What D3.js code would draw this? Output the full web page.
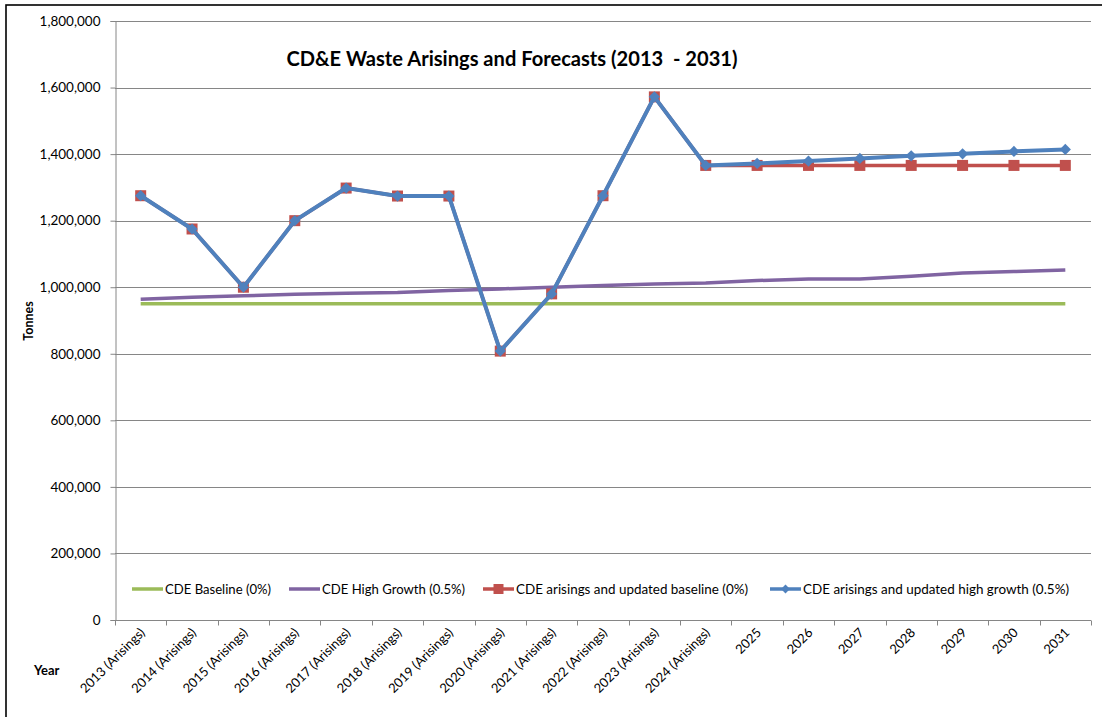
<!DOCTYPE html>
<html>
<head>
<meta charset="utf-8">
<script src="https://cdn.jsdelivr.net/npm/d3@7"></script>
<style>
  body { margin: 0; background: #fff; }
  svg { display: block; font-family: Lato, "Open Sans", sans-serif; }
</style>
</head>
<body>
<div id="chart"></div>
<script>
// ---- data ----
const categories = [
  "2013 (Arisings)", "2014 (Arisings)", "2015 (Arisings)", "2016 (Arisings)",
  "2017 (Arisings)", "2018 (Arisings)", "2019 (Arisings)", "2020 (Arisings)",
  "2021 (Arisings)", "2022 (Arisings)", "2023 (Arisings)", "2024 (Arisings)",
  "2025", "2026", "2027", "2028", "2029", "2030", "2031"
];

const baseline = [950000, 950000, 950000, 950000, 950000, 950000, 950000, 950000, 950000, 950000,
  950000, 950000, 950000, 950000, 950000, 950000, 950000, 950000, 950000];

const highGrowth = [964000, 970000, 974000, 979000, 982000, 984000, 990000, 995000, 1000000, 1005000,
  1010000, 1013000, 1020000, 1025000, 1025000, 1033000, 1043000, 1047000, 1052000];

const updatedBaseline = [1275000, 1175000, 1000000, 1200000, 1298000, 1274000, 1274000, 808000, 980000, 1275000,
  1572000, 1366000, 1366000, 1366000, 1366000, 1366000, 1366000, 1366000, 1366000];

const updatedHighGrowth = [1275000, 1175000, 1000000, 1200000, 1298000, 1274000, 1274000, 808000, 980000, 1275000,
  1572000, 1366000, 1372000, 1379000, 1387000, 1395000, 1401000, 1408000, 1414000];

const yTicks = [0, 200000, 400000, 600000, 800000, 1000000, 1200000, 1400000, 1600000, 1800000];

const seriesNames = [
  "CDE Baseline (0%)",
  "CDE High Growth (0.5%)",
  "CDE arisings and updated baseline (0%)",
  "CDE arisings and updated high growth (0.5%)"
];

// ---- layout ----
const width = 1102, height = 717;
const margin = { left: 115, top: 21, right: 11, bottom: 97 };

const svg = d3.select("#chart").append("svg")
  .attr("width", width).attr("height", height);

// outer chart border (only top/left fall inside the picture)
svg.append("rect")
  .attr("x", 6).attr("y", 5)
  .attr("width", width + 20).attr("height", height + 20)
  .attr("fill", "none").attr("stroke", "#000").attr("stroke-width", 1.6);

const x = d3.scaleBand().domain(categories)
  .range([margin.left, width - margin.right]).padding(0);
const y = d3.scaleLinear().domain([0, 1800000])
  .range([height - margin.bottom, margin.top]);

const cx = d => x(d) + x.bandwidth() / 2;

// gridlines
svg.append("g").selectAll("line")
  .data(yTicks.filter(v => v > 0))
  .enter().append("line")
  .attr("x1", margin.left).attr("x2", width - margin.right)
  .attr("y1", d => Math.round(y(d)) + 0.5).attr("y2", d => Math.round(y(d)) + 0.5)
  .attr("stroke", "#868686").attr("stroke-width", 1);

// y axis
const yAxis = svg.append("g")
  .attr("transform", `translate(${margin.left + 0.5},0)`)
  .call(d3.axisLeft(y).tickValues(yTicks).tickFormat(d3.format(",")).tickSize(5).tickPadding(10));
yAxis.select(".domain").attr("stroke", "#868686");
yAxis.selectAll(".tick line").attr("stroke", "#868686");
yAxis.selectAll(".tick text")
  .attr("font-size", 13.5).attr("fill", "#000")
  .attr("font-family", "Lato, sans-serif");

// x axis
const xAxisG = svg.append("g").attr("transform", `translate(0,${Math.round(y(0)) + 0.5})`);
xAxisG.append("line")
  .attr("x1", margin.left).attr("x2", width - margin.right)
  .attr("stroke", "#868686");
xAxisG.selectAll("line.tk")
  .data(categories.concat(["__end"]))
  .enter().append("line").attr("class", "tk")
  .attr("x1", (d, i) => Math.round(i < categories.length ? x(d) : x.range()[1]) + 0.5)
  .attr("x2", (d, i) => Math.round(i < categories.length ? x(d) : x.range()[1]) + 0.5)
  .attr("y1", 0).attr("y2", 5)
  .attr("stroke", "#868686");
xAxisG.selectAll("text")
  .data(categories)
  .enter().append("text")
  .attr("transform", d => `translate(${cx(d) + 5},${13}) rotate(-45)`)
  .attr("text-anchor", "end")
  .attr("font-size", 13)
  .attr("fill", "#000")
  .text(d => d);

// axis titles
svg.append("text")
  .attr("transform", "translate(33,321) rotate(-90)")
  .attr("text-anchor", "middle")
  .attr("font-size", 12.5).attr("font-weight", "bold")
  .text("Tonnes");
svg.append("text")
  .attr("x", 34).attr("y", 675)
  .attr("font-size", 13).attr("font-weight", "bold")
  .text("Year");

// title
svg.append("text")
  .attr("x", 512).attr("y", 66)
  .attr("text-anchor", "middle")
  .attr("font-size", 21).attr("font-weight", "bold")
  .style("white-space", "pre")
  .attr("textLength", 451).attr("lengthAdjust", "spacingAndGlyphs")
  .text("CD&E Waste Arisings and Forecasts (2013  - 2031)");

// series
const line = d3.line().x((d, i) => cx(categories[i])).y(d => y(d));

const series = [
  { values: baseline, color: "#9BBB59", width: 3.5, marker: null },
  { values: highGrowth, color: "#8064A2", width: 3.5, marker: null },
  { values: updatedBaseline, color: "#C0504D", width: 3.5, marker: "square" },
  { values: updatedHighGrowth, color: "#4F81BD", width: 4, marker: "diamond" }
];

series.forEach(s => {
  svg.append("path")
    .datum(s.values)
    .attr("d", line)
    .attr("fill", "none")
    .attr("stroke", s.color)
    .attr("stroke-width", s.width)
    .attr("stroke-linejoin", "round");
  if (s.marker) {
    const sym = d3.symbol()
      .type(s.marker === "square" ? d3.symbolSquare : d3.symbolDiamond2)
      .size(s.marker === "square" ? 121 : 80);
    svg.append("g").selectAll("path")
      .data(s.values)
      .enter().append("path")
      .attr("d", sym)
      .attr("transform", (d, i) => `translate(${cx(categories[i])},${y(d)})`)
      .attr("fill", s.color);
  }
});

// legend
const legendY = 589;
const legendItems = [
  { name: seriesNames[0], color: "#9BBB59", marker: null, x0: 132, tl: 106 },
  { name: seriesNames[1], color: "#8064A2", marker: null, x0: 289, tl: 143 },
  { name: seriesNames[2], color: "#C0504D", marker: "square", x0: 483, tl: 232 },
  { name: seriesNames[3], color: "#4F81BD", marker: "diamond", x0: 770, tl: 266 }
];
const lg = svg.append("g");
legendItems.forEach(it => {
  lg.append("line")
    .attr("x1", it.x0).attr("x2", it.x0 + 31)
    .attr("y1", legendY).attr("y2", legendY)
    .attr("stroke", it.color).attr("stroke-width", 3.5);
  if (it.marker) {
    lg.append("path")
      .attr("d", d3.symbol().type(it.marker === "square" ? d3.symbolSquare : d3.symbolDiamond2)
        .size(it.marker === "square" ? 100 : 50))
      .attr("transform", `translate(${it.x0 + 15.5},${legendY})`)
      .attr("fill", it.color);
  }
  lg.append("text")
    .attr("x", it.x0 + 33).attr("y", legendY + 4.5)
    .attr("font-size", 13)
    .attr("textLength", it.tl).attr("lengthAdjust", "spacingAndGlyphs")
    .text(it.name);
});
</script>
</body>
</html>
